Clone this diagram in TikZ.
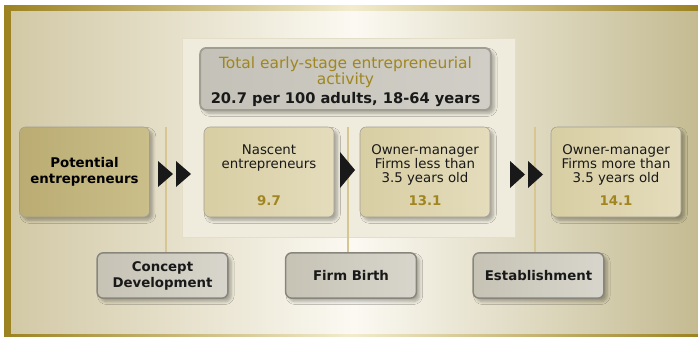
\documentclass[tikz,border=0pt]{standalone}
\usepackage{fontspec}
\setmainfont{DejaVu Sans}
\usetikzlibrary{positioning,shadows.blur}
\definecolor{framegold}{RGB}{156,130,32}
\definecolor{palegold}{RGB}{242,236,206}
\definecolor{bgleft}{RGB}{210,201,166}
\definecolor{bgmid}{RGB}{251,249,242}
\definecolor{bgright}{RGB}{196,187,146}
\definecolor{panelfill}{RGB}{239,235,221}
\definecolor{paneledge}{RGB}{228,222,200}
\definecolor{titleleft}{RGB}{196,194,184}
\definecolor{titleright}{RGB}{208,206,198}
\definecolor{edgegray}{RGB}{160,157,147}
\definecolor{textgold}{RGB}{160,134,32}
\definecolor{stageleft}{RGB}{216,206,163}
\definecolor{stageright}{RGB}{228,220,188}
\definecolor{potleft}{RGB}{186,172,114}
\definecolor{potright}{RGB}{202,190,138}
\definecolor{phaseleft}{RGB}{198,195,181}
\definecolor{phaseright}{RGB}{216,214,204}
\definecolor{stemline}{RGB}{214,199,146}
\newcommand{\widthstage}{97.5pt}
\newcommand{\heightstage}{67.5pt}
\newcommand{\widthphase}{98pt}
\newcommand{\heightphase}{34pt}
\newcommand{\playarrow}[3]{\fill[black!90] (#1,#2) -- ++(15,#3/2) -- ++(-15,#3/2) -- cycle;}
\tikzset{
    common/.style={rounded corners=4.5pt, align=center,
        blur shadow={shadow xshift=2.5pt, shadow yshift=-2.5pt, shadow opacity=30, shadow blur steps=6}},
    stage/.style={common, draw=edgegray, left color=stageleft, right color=stageright,
        minimum width=\widthstage, minimum height=\heightstage},
    potential/.style={stage, left color=potleft, right color=potright, font=\bfseries},
    phase/.style={common, draw=edgegray!85!black, line width=1.1pt, left color=phaseleft, right color=phaseright,
        minimum width=\widthphase, minimum height=\heightphase, font=\bfseries, text=black!90},
    titlebox/.style={common, draw=edgegray, line width=1.4pt, left color=titleleft, right color=titleright,
        minimum width=218pt, minimum height=46.5pt},
    titletext/.style={align=center, font=\fontsize{11.6}{12}\selectfont, text=textgold},
    stagetext/.style={align=center, font=\fontsize{10}{10.6}\selectfont, text=black!90},
    stagenum/.style={font=\bfseries, text=textgold},
    stem/.style={stemline, line width=1.1pt}
}

\begin{document}
\begin{tikzpicture}[x=0.75pt, y=-0.75pt]
        \useasboundingbox (0,0) rectangle (698,336);
        % frame and backdrop
        \shade[left color=framegold, right color=framegold, middle color=palegold] (4,5) rectangle (698,336);
        \shade[left color=bgleft, right color=bgright, middle color=bgmid] (11,11) rectangle (698,333);
        \filldraw[fill=panelfill, draw=paneledge] (182,38) rectangle (515,237);

        \node[titlebox] (tea) at (345.5,79) {};
        \node[titletext] at ([yshift=-2pt]tea.center) {Total early-stage entrepreneurial\\activity\\[2pt]\color{black!90}\fontsize{11}{12}\selectfont\textbf{20.7 per 100 adults, 18-64 years}};

        \node[potential] (potential) at (84.5,172) {Potential\\entrepreneurs};
        \node[stage] (nascent) at (269,172) {};
        \node[stage] (young) at (425,172) {};
        \node[stage] (established) at (616,172) {};

        \node[stagetext, below=10pt of nascent.north] {Nascent\\entrepreneurs};
        \node[stagetext, below=10pt of young.north] {Owner-manager\\Firms less than\\3.5 years old};
        \node[stagetext, below=10pt of established.north] {Owner-manager\\Firms more than\\3.5 years old};
        \node[stagenum, above=5pt of nascent.south] {9.7};
        \node[stagenum, above=5pt of young.south] {13.1};
        \node[stagenum, above=5pt of established.south] {14.1};

        \node[phase] (concept) at (162.5,275.5) {Concept\\Development};
        \node[phase] (birth) at (351,275.5) {Firm Birth};
        \node[phase] (establish) at (538.5,275.5) {Establishment};

        \coordinate (stemA) at (166,127);
        \coordinate (stemB) at (348,127);
        \coordinate (stemC) at (535,127);
        \draw[stem] (stemA) -- (stemA |- concept.north);
        \draw[stem] (stemB) -- (stemB |- birth.north);
        \draw[stem] (stemC) -- (stemC |- establish.north);

        \playarrow{158}{161}{26}
        \playarrow{176}{161}{26}
        \playarrow{340}{152}{36}
        \playarrow{510}{161}{27}
        \playarrow{528}{161}{27}
    \end{tikzpicture}
\end{document}
